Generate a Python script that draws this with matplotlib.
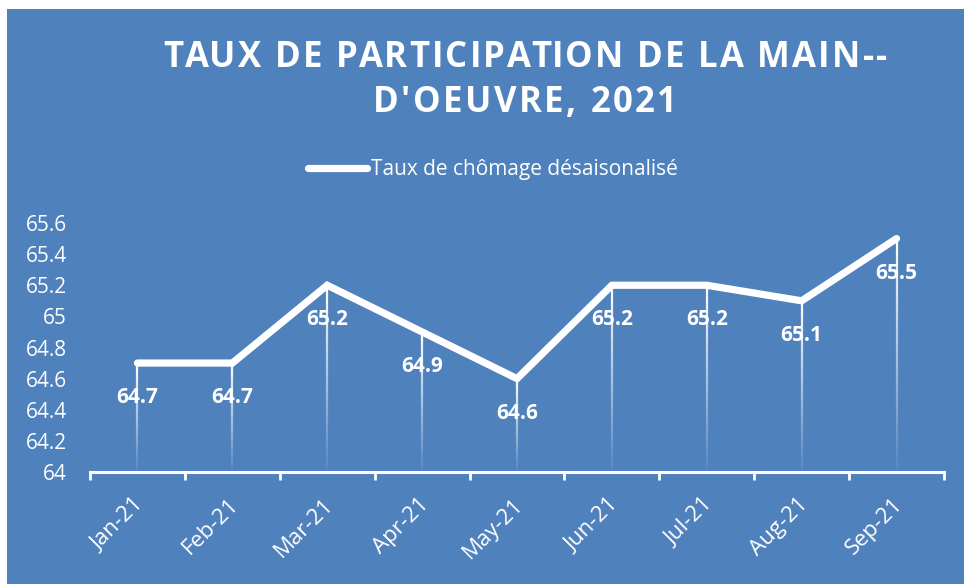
import numpy as np
import matplotlib.pyplot as plt
import matplotlib.transforms as mtransforms
from matplotlib.collections import LineCollection
from matplotlib.patches import Rectangle

months = ["Jan-21", "Feb-21", "Mar-21", "Apr-21", "May-21", "Jun-21", "Jul-21", "Aug-21", "Sep-21"]
taux = [64.7, 64.7, 65.2, 64.9, 64.6, 65.2, 65.2, 65.1, 65.5]
y_ticks = [64, 64.2, 64.4, 64.6, 64.8, 65, 65.2, 65.4, 65.6]
y_tick_labels = ["64", "64.2", "64.4", "64.6", "64.8", "65", "65.2", "65.4", "65.6"]
title_lines = ["TAUX DE PARTICIPATION DE LA MAIN--", "D'OEUVRE, 2021"]

bg = "#4f81bd"
plt.rcParams['font.family'] = ['Open Sans', 'DejaVu Sans']

W, H = 964, 584
fig = plt.figure(figsize=(W / 100, H / 100), dpi=100)
fig.patch.set_facecolor("white")
# blue chart area (thin white strip on the left and top)
fig.patches.append(Rectangle((7 / W, 0), 1 - 7 / W, 1 - 9 / H,
                             transform=fig.transFigure, facecolor=bg,
                             edgecolor="none", zorder=-10))

ax = fig.add_axes([90 / W, 112 / H, 854 / W, 249 / H])
ax.set_facecolor("none")
ax.set_zorder(2)

x = np.arange(len(months))

# drop lines fading towards the axis
n = 40
for xi, yi in zip(x, taux):
    ys = np.linspace(yi, 64, n + 1)
    segs = [[(xi, ys[k]), (xi, ys[k + 1])] for k in range(n)]
    alphas = np.linspace(1.0, 0.05, n)
    cols = [(1, 1, 1, a) for a in alphas]
    ax.add_collection(LineCollection(segs, colors=cols, linewidths=1.6, zorder=2))

ax.plot(x, taux, color="white", linewidth=5.2, solid_capstyle="round",
        solid_joinstyle="miter", zorder=3, label="Taux de chômage désaisonalisé")

for xi, yi in zip(x, taux):
    ax.annotate(f"{yi:.1f}", (xi, yi), xytext=(0, -25), textcoords="offset points",
                ha="center", va="center", color="white", fontsize=15,
                fontweight="bold", zorder=4)

ax.set_xlim(-0.5, len(months) - 0.5)
ax.set_ylim(64, 65.6)

ax.set_xticks(np.arange(len(months) + 1) - 0.5)
ax.set_xticklabels([])
ax.set_xticks(x, minor=True)
ax.set_xticklabels(months, minor=True, rotation=45, ha="right", va="top",
                   rotation_mode="anchor", color="white", fontsize=16)
ax.tick_params(axis="x", which="major", length=6, width=2, color="white", direction="out")
ax.tick_params(axis="x", which="minor", length=0, pad=16)
shift = mtransforms.ScaledTranslation(-4 / 100, 0, fig.dpi_scale_trans)
for lab in ax.get_xticklabels(minor=True):
    lab.set_transform(lab.get_transform() + shift)

ax.set_yticks(y_ticks)
ax.set_yticklabels(y_tick_labels, color="white", fontsize=15)
ax.tick_params(axis="y", length=0, pad=16.5)

for s in ["top", "right", "left"]:
    ax.spines[s].set_visible(False)
ax.spines["bottom"].set_color("white")
ax.spines["bottom"].set_linewidth(2.2)

# title with letter spacing, drawn char by char
renderer = fig.canvas.get_renderer()
title_kw = dict(color="white", fontsize=25, fontweight="bold", va="center", ha="left")
for line, yc, target_w in zip(title_lines, [58, 103], [724, 304]):
    probe = fig.text(0, 0, line, **title_kw)
    full_w = probe.get_window_extent(renderer).width
    probe.remove()
    track = (target_w - full_w) / (len(line) - 1)
    left = 525 - target_w / 2
    for i, ch in enumerate(line):
        if i:
            p = fig.text(0, 0, line[:i], **title_kw)
            off = p.get_window_extent(renderer).width
            p.remove()
        else:
            off = 0
        fig.text((left + off + i * track) / W, 1 - yc / H, ch, **title_kw)

fig.legend(loc="center", bbox_to_anchor=(493 / W, 1 - 170 / H), frameon=False,
           fontsize=15, labelcolor="white", handlelength=2.8, handletextpad=0.2)

plt.savefig("out.png", dpi=100, facecolor=fig.get_facecolor())
